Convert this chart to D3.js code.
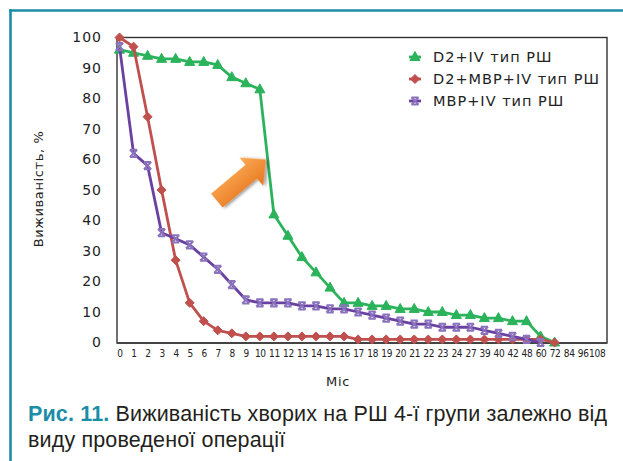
<!DOCTYPE html>
<html>
<head>
<meta charset="utf-8">
<script src="https://cdn.jsdelivr.net/npm/d3@7"></script>
<style>
  html, body { margin: 0; padding: 0; background: #fff; }
  svg { display: block; }
</style>
</head>
<body>
<svg id="chart" width="623" height="461"></svg>
<script>
// Months of follow-up (category axis)
const months = ["0","1","2","3","4","5","6","7","8","9","10","11","12","13","14","15","16",
  "17","18","19","20","21","22","23","24","27","39","40","42","48","60","72","84","96","108"];

// Survival, % by month
const d2IV = [96,95,94,93,93,92,92,91,87,85,83,42,35,28,23,18,13,13,12,12,11,11,10,10,9,9,8,8,7,7,2,0];
const d2MbpIV = [100,97,74,50,27,13,7,4,3,2,2,2,2,2,2,2,2,1,1,1,1,1,1,1,1,1,1,1,1,1,1,0];
const mbpIV = [97,62,58,36,34,32,28,24,19,14,13,13,13,12,12,11,11,10,9,8,7,6,6,5,5,5,4,3,2,1,0];

const seriesNames = ["D2+IV тип РШ", "D2+МВР+IV тип РШ", "МВР+IV тип РШ"];
const yTicks = [0,10,20,30,40,50,60,70,80,90,100];

const series = [
  { name: seriesNames[0], values: d2IV,    color: "#2bb35b", marker: "triangle" },
  { name: seriesNames[1], values: d2MbpIV, color: "#c0504d", marker: "diamond" },
  { name: seriesNames[2], values: mbpIV,   color: "#6a40a0", markerColor: "#8a72bc", marker: "star" }
];

const svg = d3.select("#chart");
const teal = "#1b8da7";
const axisFont = "DejaVu Sans, sans-serif";

// Page frame (top and left rules)
svg.append("line").attr("x1", 9.2).attr("x2", 623).attr("y1", 10.5).attr("y2", 10.5)
  .attr("stroke", teal).attr("stroke-width", 2.6);
svg.append("line").attr("x1", 10.5).attr("x2", 10.5).attr("y1", 9.2).attr("y2", 461)
  .attr("stroke", teal).attr("stroke-width", 2.6);

const plot = { left: 117, right: 607, top: 37.5, bottom: 343 };

const x = d3.scalePoint().domain(months).range([119.5, 596.7]);
const y = d3.scaleLinear().domain([0, 100]).range([342.5, 37.5]);

// Plot frame
svg.append("rect")
  .attr("x", plot.left).attr("y", plot.top)
  .attr("width", plot.right - plot.left).attr("height", plot.bottom - plot.top)
  .attr("fill", "none").attr("stroke", "#333").attr("stroke-width", 1.4);
svg.append("line").attr("x1", plot.left).attr("x2", plot.right)
  .attr("y1", plot.bottom).attr("y2", plot.bottom)
  .attr("stroke", "#444").attr("stroke-width", 2);

// Axes
const yAxis = svg.append("g").attr("transform", `translate(${plot.left},0)`)
  .call(d3.axisLeft(y).tickValues(yTicks).tickSize(0).tickPadding(15));
yAxis.select(".domain").remove();
yAxis.selectAll("text").attr("font-family", axisFont).attr("font-size", 14)
  .attr("letter-spacing", 1).attr("fill", "#222");

const xAxis = svg.append("g").attr("transform", `translate(0,${plot.bottom})`)
  .call(d3.axisBottom(x).tickSize(0).tickPadding(7));
xAxis.select(".domain").remove();
xAxis.selectAll("text")
  .attr("font-family", "DejaVu Sans Condensed, DejaVu Sans, sans-serif")
  .attr("font-stretch", "condensed")
  .attr("font-size", 10).attr("letter-spacing", -0.3)
  .attr("fill", "#222");

// Axis titles
svg.append("text")
  .attr("transform", `translate(43,189) rotate(-90)`)
  .attr("text-anchor", "middle")
  .attr("font-family", axisFont).attr("font-size", 13).attr("letter-spacing", 0.6)
  .attr("fill", "#222").text("Виживаність, %");
svg.append("text")
  .attr("x", 338).attr("y", 386).attr("text-anchor", "middle")
  .attr("font-family", axisFont).attr("font-size", 13).attr("letter-spacing", 0.6)
  .attr("fill", "#222").text("Міс");

// Marker shapes
function markerPath(type) {
  if (type === "triangle") return "M0,-5.5L5,3.5L-5,3.5Z";
  if (type === "diamond") return "M0,-4.5L4.5,0L0,4.5L-4.5,0Z";
  return "M-3.6,-3.6L3.6,3.6M-3.6,3.6L3.6,-3.6M-3.6,-3.6L3.6,-3.6M-3.6,3.6L3.6,3.6";
}
function drawMarker(g, s, cx, cy) {
  const c = s.markerColor || s.color;
  if (s.marker === "star") {
    g.append("path").attr("transform", `translate(${cx},${cy})`)
      .attr("d", markerPath(s.marker)).attr("fill", "none")
      .attr("stroke", c).attr("stroke-width", 2);
  } else {
    g.append("path").attr("transform", `translate(${cx},${cy})`)
      .attr("d", markerPath(s.marker)).attr("fill", c).attr("stroke", c).attr("stroke-width", 1);
  }
}

const line = d3.line().x((d, i) => x(months[i])).y(d => y(d));

series.forEach(s => {
  const g = svg.append("g");
  g.append("path").datum(s.values).attr("d", line)
    .attr("fill", "none").attr("stroke", s.color).attr("stroke-width", 2.8)
    .attr("stroke-linejoin", "round");
  s.values.forEach((v, i) => drawMarker(g, s, x(months[i]), y(v)));
});

// Legend
const legendRows = [57, 79, 101];
series.forEach((s, i) => {
  const g = svg.append("g");
  g.append("line").attr("x1", 409).attr("x2", 421)
    .attr("y1", legendRows[i]).attr("y2", legendRows[i])
    .attr("stroke", s.color).attr("stroke-width", 2.8);
  drawMarker(g, s, 415, legendRows[i]);
  g.append("text").attr("x", 433).attr("y", legendRows[i] + 5.2)
    .attr("font-family", axisFont).attr("font-size", 14.5).attr("letter-spacing", 1)
    .attr("fill", "#222").text(s.name);
});

// Callout arrow pointing at the drop of the D2+IV curve
const defs = svg.append("defs");
const grad = defs.append("linearGradient").attr("id", "arrowFill")
  .attr("x1", "0").attr("y1", "0").attr("x2", "0").attr("y2", "1");
grad.append("stop").attr("offset", "0").attr("stop-color", "#fbab55");
grad.append("stop").attr("offset", "1").attr("stop-color", "#e8761f");
const shadow = defs.append("filter").attr("id", "arrowShadow")
  .attr("x", "-30%").attr("y", "-30%").attr("width", "160%").attr("height", "160%");
shadow.append("feDropShadow").attr("dx", 1.5).attr("dy", 2).attr("stdDeviation", 1.4)
  .attr("flood-color", "#000").attr("flood-opacity", 0.4);

const tip = [x("10") + (x("11") - x("10")) * 0.5 - 1, y(60)];
const angle = -40;
const len = 64, headLen = 19, headW = 37, shaftW = 18;
svg.append("path")
  .attr("transform", `translate(${tip[0]},${tip[1]}) rotate(${angle})`)
  .attr("d", `M0,0L${-headLen},${-headW / 2}L${-headLen},${-shaftW / 2}L${-len},${-shaftW / 2}` +
             `L${-len},${shaftW / 2}L${-headLen},${shaftW / 2}L${-headLen},${headW / 2}Z`)
  .attr("fill", "url(#arrowFill)")
  .attr("filter", "url(#arrowShadow)");

// Figure caption
const cap = svg.append("g").attr("font-family", "Liberation Sans, Arial, sans-serif")
  .attr("font-size", 21.5).attr("letter-spacing", 0.15).attr("fill", "#231f20");
const l1 = cap.append("text").attr("x", 28).attr("y", 421);
l1.append("tspan").attr("font-weight", "bold").attr("fill", teal).text("Рис. 11.");
l1.append("tspan").text(" Виживаність хворих на РШ 4-ї групи залежно від");
cap.append("text").attr("x", 28).attr("y", 447).text("виду проведеної операції");
</script>
</body>
</html>
